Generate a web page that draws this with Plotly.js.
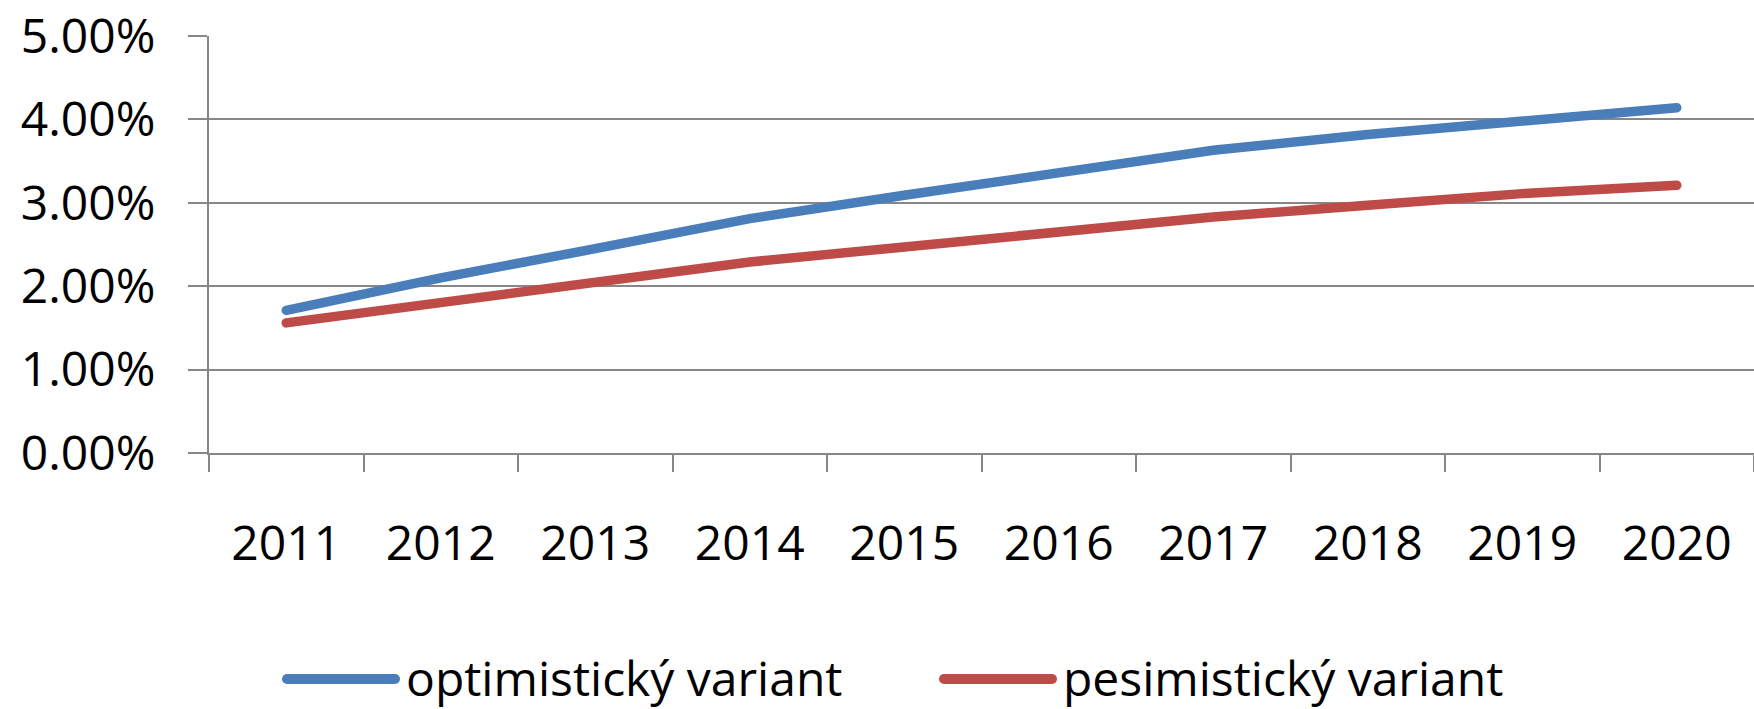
<!DOCTYPE html>
<html>
<head>
<meta charset="utf-8">
<script src="https://cdn.plot.ly/plotly-3.0.1.min.js"></script>
<style>
  html, body { margin: 0; padding: 0; background: #fff; }
  #chart { width: 1754px; height: 709px; }
  .js-line { stroke-linecap: round; }
  .shapelayer path { stroke-linecap: round; }
</style>
</head>
<body>
<div id="chart"></div>
<script>
// Data
const years = ['2011', '2012', '2013', '2014', '2015', '2016', '2017', '2018', '2019', '2020'];
const optimisticky = [0.0171, 0.0210, 0.0245, 0.0281, 0.0309, 0.0335, 0.0363, 0.0382, 0.0399, 0.0414];
const pesimisticky = [0.0156, 0.0180, 0.0205, 0.0229, 0.0247, 0.0265, 0.0283, 0.0297, 0.0311, 0.0321];
const seriesNames = ['optimistický variant', 'pesimistický variant'];
const seriesColors = ['#4A7EBB', '#BE4B48'];

const W = 1754, H = 709;
const mL = 209, mR = 0, mT = 36, mB = 256;
const plotW = W - mL - mR, plotH = H - mT - mB;
const px2x = p => (p - mL) / plotW;
const px2y = p => (H - mB - p) / plotH;

const font = { family: '"Open Sans", sans-serif', size: 48, color: '#000' };
const grid = '#878787';

const traces = [
  { x: years, y: optimisticky, name: seriesNames[0], type: 'scatter', mode: 'lines',
    line: { color: seriesColors[0], width: 9.5 } },
  { x: years, y: pesimisticky, name: seriesNames[1], type: 'scatter', mode: 'lines',
    line: { color: seriesColors[1], width: 9.5 } }
];

// custom legend (long line keys, as in the reference)
const legendY = 679;
const legendItems = [
  { x0: 287, x1: 395, tx: 404 },
  { x0: 944, x1: 1052, tx: 1061 }
];
const shapes = [], annotations = [];
legendItems.forEach((it, i) => {
  shapes.push({ type: 'line', xref: 'paper', yref: 'paper',
    x0: px2x(it.x0), x1: px2x(it.x1), y0: px2y(legendY), y1: px2y(legendY),
    line: { color: seriesColors[i], width: 10 } });
  annotations.push({ xref: 'paper', yref: 'paper', x: px2x(it.tx), y: px2y(legendY - 2),
    xanchor: 'left', yanchor: 'middle', showarrow: false, text: seriesNames[i],
    font: font });
});

const layout = {
  width: W, height: H,
  margin: { l: mL, r: mR, t: mT, b: mB, pad: 0 },
  paper_bgcolor: '#fff', plot_bgcolor: '#fff',
  showlegend: false,
  font: font,
  xaxis: {
    type: 'category', range: [-0.5, 9.5], fixedrange: true,
    showgrid: false, zeroline: false,
    showline: true, linecolor: grid, linewidth: 2,
    ticks: 'outside', tickson: 'boundaries', ticklen: 17, tickwidth: 2, tickcolor: grid,
    ticklabelstandoff: 47,
    tickfont: font
  },
  yaxis: {
    range: [0, 0.05], dtick: 0.01, tick0: 0, tickformat: '.2%', fixedrange: true,
    showgrid: true, gridcolor: grid, gridwidth: 2,
    zeroline: false,
    showline: true, linecolor: grid, linewidth: 2,
    ticks: 'outside', ticklen: 19, tickwidth: 2, tickcolor: grid,
    ticklabelstandoff: 23,
    tickfont: font
  },
  shapes: shapes,
  annotations: annotations
};

Plotly.newPlot('chart', traces, layout, { staticPlot: true, displayModeBar: false });
</script>
</body>
</html>
